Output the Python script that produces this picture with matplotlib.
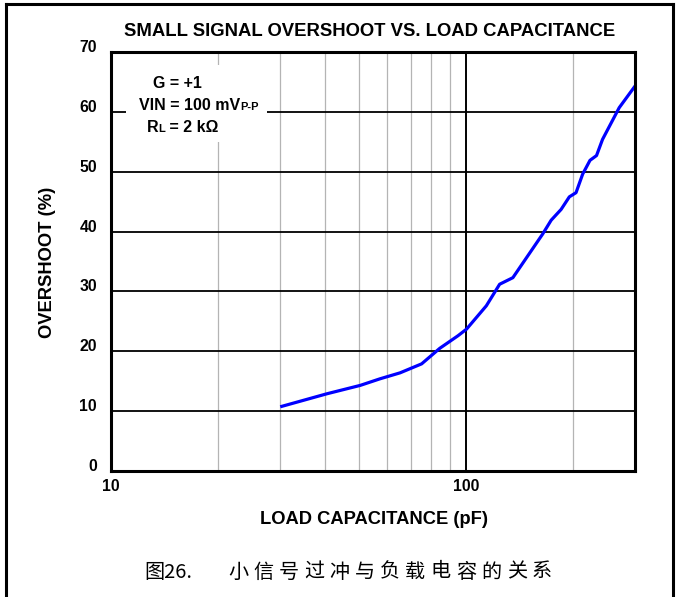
import matplotlib
matplotlib.use("Agg")
import matplotlib.pyplot as plt
from matplotlib.lines import Line2D
from matplotlib.patches import Rectangle
import matplotlib.transforms as mtransforms

# ---- data ----
capacitance_pf = [30.3, 40.6, 50.4, 57.3, 65.3, 75.1, 84.5, 95.1, 100.5, 114.3,
                  124.6, 135.8, 164.8, 174.1, 185.7, 195.9, 204.6, 213.6, 224.0,
                  233.7, 243.0, 270.8, 300.0]
overshoot_pct = [10.8, 12.9, 14.3, 15.4, 16.4, 17.9, 20.5, 22.6, 23.7, 27.6,
                 31.2, 32.3, 39.6, 41.9, 43.7, 45.8, 46.5, 49.6, 51.9,
                 52.7, 55.4, 60.7, 64.3]
y_ticks = [0, 10, 20, 30, 40, 50, 60, 70]
x_tick_vals = [10, 100]
x_tick_labels = ["10", "100"]
minor_x = [20, 30, 40, 50, 60, 70, 80, 90, 200]
title = "SMALL SIGNAL OVERSHOOT VS. LOAD CAPACITANCE"
xlabel = "LOAD CAPACITANCE (pF)"
ylabel = "OVERSHOOT (%)"
caption_fig = "图26."
caption_text = "小信号过冲与负载电容的关系"

FONT = ["Liberation Sans Narrow", "Liberation Sans", "DejaVu Sans"]
CJK = ["Noto Sans CJK SC", "DejaVu Sans"]

W, H = 681, 597
fig = plt.figure(figsize=(W / 100, H / 100), dpi=100)
fig.patch.set_facecolor("white")

def fx(px):
    return px / W

def fy(py):
    return 1 - py / H

L, R, T, B = 111, 635, 52, 471
ax = fig.add_axes([fx(L), fy(B), fx(R) - fx(L), (B - T) / H])
ax.set_xscale("log")
ax.set_xlim(10, 300)
ax.set_ylim(0, 70)

# grid
for xv in minor_x:
    ax.axvline(xv, color="#b4b4b4", lw=0.9, zorder=1)
ax.axvline(100, color="black", lw=1.4, zorder=2)
for yv in y_ticks[1:-1]:
    ax.axhline(yv, color="black", lw=1.3, zorder=2)

ax.plot(capacitance_pf, overshoot_pct, color="#0000ff", lw=2.3, zorder=5,
        solid_joinstyle="round", clip_on=True)

for s in ax.spines.values():
    s.set_linewidth(2.2)
    s.set_color("black")
    s.set_zorder(6)

ax.minorticks_off()
ax.set_xticks(x_tick_vals)
ax.set_xticklabels(x_tick_labels)
ax.set_yticks(y_ticks)
ax.set_yticklabels([str(v) for v in y_ticks])
ax.tick_params(axis="both", length=0)
ax.tick_params(axis="y", pad=10)
ax.tick_params(axis="x", pad=6)
for lab in ax.get_xticklabels() + ax.get_yticklabels():
    lab.set_fontfamily(FONT)
    lab.set_fontweight("bold")
    lab.set_fontsize(11.3)
off = mtransforms.ScaledTranslation(0, 6 / 100, fig.dpi_scale_trans)
for lab in ax.get_yticklabels():
    lab.set_transform(lab.get_transform() + off)

# legend box
box = Rectangle((fx(126), fy(142)), fx(267) - fx(126), (142 - 65) / H,
                transform=fig.transFigure, facecolor="white", edgecolor="none",
                zorder=3)
ax.add_artist(box)
box.set_clip_on(False)

tkw = dict(fontfamily=FONT, fontweight="bold", fontsize=11.5, va="center",
           ha="left", zorder=10)
fig.text(fx(153), fy(83), "G = +1", **tkw)
t_vin = fig.text(fx(139), fy(105), "VIN = 100 mV", **tkw)
t_rl = fig.text(fx(147), fy(127), "R", **tkw)

sub_kw = dict(fontfamily=FONT, fontweight="bold", fontsize=8, zorder=10)
fig.canvas.draw()
r = fig.canvas.get_renderer()
bb = t_vin.get_window_extent(r)
fig.text(bb.x1 / W, (bb.y0 + 1) / H, "P-P", ha="left", va="bottom", **sub_kw)
bb = t_rl.get_window_extent(r)
t_l = fig.text(bb.x1 / W, (bb.y0 + 1) / H, "L", ha="left", va="bottom", **sub_kw)
fig.canvas.draw()
bb2 = t_l.get_window_extent(r)
fig.text(bb2.x1 / W, fy(127), " = 2 kΩ", **tkw)

# titles
fig.text(fx(370), fy(31), title, ha="center", va="center",
         fontfamily=FONT, fontweight="bold", fontsize=13.3)
fig.text(fx(374), fy(520), xlabel, ha="center", va="center",
         fontfamily=FONT, fontweight="bold", fontsize=13.2)
fig.text(fx(48), fy(262), ylabel, ha="center", va="center", rotation=90,
         fontfamily=FONT, fontweight="bold", fontsize=13.2)

# caption
fig.text(fx(144), fy(572), caption_fig, ha="left", va="center",
         fontfamily=CJK, fontsize=14.5)
for i, ch in enumerate(caption_text):
    fig.text(fx(228.3 + i * 25.3), fy(572), ch, ha="left", va="center",
             fontfamily=CJK, fontsize=14.5)

# outer frame (open at the bottom)
fl = dict(color="black", lw=2.2, transform=fig.transFigure, solid_capstyle="projecting")
fig.add_artist(Line2D([fx(5.5), fx(5.5)], [fy(4), fy(600)], **fl))
fig.add_artist(Line2D([fx(5.5), fx(673)], [fy(4), fy(4)], **fl))
fig.add_artist(Line2D([fx(673), fx(673)], [fy(4), fy(600)], **fl))

fig.savefig("out.png", dpi=100, facecolor="white")
